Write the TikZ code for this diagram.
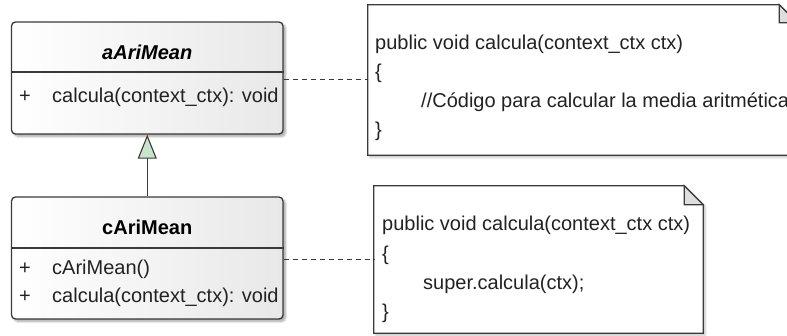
\documentclass[tikz,border=0pt]{standalone}
\usepackage{fontspec}
\setmainfont{Liberation Sans}
\usetikzlibrary{arrows.meta,shadows.blur}

\definecolor{edge}{HTML}{3A3A3A}
\definecolor{genfill}{HTML}{C8E4CA}
\definecolor{foldfill}{HTML}{DEDEDE}
\definecolor{txt}{HTML}{222222}

\begin{document}
\begin{tikzpicture}[x=1pt,y=-1pt,
  every node/.style={font=\fontsize{20}{24}\selectfont, text=txt},
  classbox/.style={draw=edge, line width=1.3pt, rounded corners=4pt,
    left color=white, right color=black!9, inner sep=0pt,
    minimum width=271.5pt,
    blur shadow={shadow xshift=2.5pt, shadow yshift=-2.5pt,
      shadow blur steps=6, shadow opacity=35}},
  title/.style={font=\fontsize{20}{24}\selectfont\bfseries, text=black, inner sep=0pt},
  member/.style={anchor=west, inner sep=0pt, text height=14.5pt, text depth=4pt},
  divider/.style={draw=edge, line width=1.1pt},
  noteline/.style={anchor=west, inner sep=0pt, text height=14.5pt, text depth=4pt},
  notebox/.style={inner sep=0pt},
  noteedge/.style={draw=edge, line width=1.2pt, fill=white,
    blur shadow={shadow xshift=2pt, shadow yshift=-2pt,
      shadow blur steps=5, shadow opacity=25}},
  foldedge/.style={draw=edge, line width=1.2pt, fill=foldfill},
  anchorlink/.style={draw=edge, line width=0.9pt, dash pattern=on 5pt off 4pt},
  generalization/.style={draw=edge, line width=1.2pt,
    -{Triangle[width=19pt,length=24pt,fill=genfill,line width=1.1pt]}}
]
\useasboundingbox (0,0) rectangle (787,335);
\clip (0,0) rectangle (787,335);

% abstract class aAriMean
\node[classbox, minimum height=112pt] (abs) at (147.25,78) {};
\node[title, font=\fontsize{20}{24}\selectfont\bfseries\itshape] (absname) at (147.25,52) {aAriMean};
\draw[divider] (abs.west |- 0,72) -- (abs.east |- 0,72);
\node[member] (absvis) at (19,97) {+};
\node[member] (absop) at (52,97) {calcula(context\_ctx): void};

% concrete class cAriMean
\node[classbox, minimum height=122pt] (conc) at (147.25,258) {};
\node[title] (concname) at (147.25,227) {cAriMean};
\draw[divider] (conc.west |- 0,248) -- (conc.east |- 0,248);
\node[member] (concvis1) at (19,269) {+};
\node[member] (concop1) at (52,269) {cAriMean()};
\node[member] (concvis2) at (19,297) {+};
\node[member] (concop2) at (52,297) {calcula(context\_ctx): void};

% inheritance
\draw[generalization] (conc.north) -- (abs.south);

% note attached to aAriMean
\node[notebox, minimum width=429pt, minimum height=150pt] (nabs) at (582.5,80) {};
\path[noteedge] (nabs.north west) -- ([xshift=-18pt]nabs.north east)
  -- ([yshift=-18pt]nabs.north east) -- (nabs.south east)
  -- (nabs.south west) -- cycle;
\path[foldedge] ([xshift=-18pt]nabs.north east) -- ([yshift=-18pt]nabs.north east)
  -- ([xshift=-18pt,yshift=-18pt]nabs.north east) -- cycle;
\node[noteline] (nabs1) at (375,44) {public void calcula(context\_ctx ctx)};
\node[noteline] (nabs2) at (375,73) {\{};
\node[noteline] (nabs3) at (421,102) {//Código para calcular la media aritmética};
\node[noteline] (nabs4) at (375,131) {\}};

% note attached to cAriMean
\node[notebox, minimum width=329pt, minimum height=147pt] (nconc) at (538.5,259.5) {};
\path[noteedge] (nconc.north west) -- ([xshift=-19pt]nconc.north east)
  -- ([yshift=-19pt]nconc.north east) -- (nconc.south east)
  -- (nconc.south west) -- cycle;
\path[foldedge] ([xshift=-19pt]nconc.north east) -- ([yshift=-19pt]nconc.north east)
  -- ([xshift=-19pt,yshift=-19pt]nconc.north east) -- cycle;
\node[noteline] (nconc1) at (382,225) {public void calcula(context\_ctx ctx)};
\node[noteline] (nconc2) at (382,255) {\{};
\node[noteline] (nconc3) at (423,284) {super.calcula(ctx);};
\node[noteline] (nconc4) at (382,313) {\}};

% note anchors
\draw[anchorlink] (abs.east |- 0,79) -- (nabs.west |- 0,79);
\draw[anchorlink] (conc.east |- 0,259) -- (nconc.west |- 0,259);
\end{tikzpicture}
\end{document}
